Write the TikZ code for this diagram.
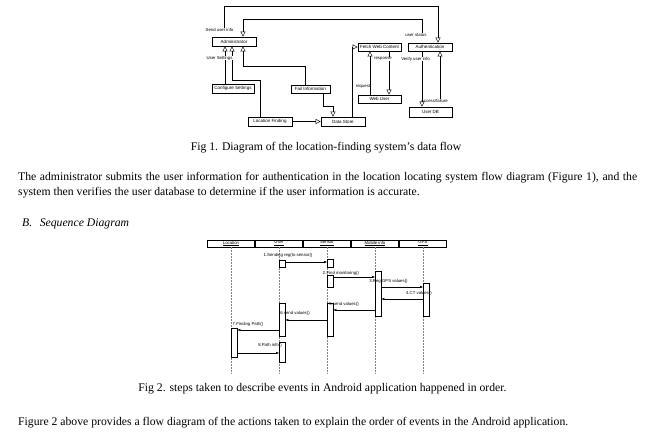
\documentclass[tikz,border=0pt]{standalone}
\usepackage{fontspec}
\setmainfont{Liberation Serif}
\newfontfamily\diagfont{Liberation Sans}
\usetikzlibrary{arrows.meta}

\tikzset{
  box/.style={draw,line width=0.7pt,inner sep=0pt,minimum height=9pt,font=\diagfont\fontsize{4.5}{5}\selectfont},
  lbl/.style={inner sep=0.4pt,font=\diagfont\fontsize{4.3}{5}\selectfont},
  flow/.style={line width=0.45pt,-{Triangle[open,length=5pt,width=5pt]}},
  head/.style={draw,line width=0.5pt,minimum width=47pt,minimum height=7pt,inner sep=0pt,font=\diagfont\fontsize{4.3}{5}\selectfont},
  act/.style={draw,line width=0.4pt,fill=white,minimum width=6pt,inner sep=0pt,anchor=north west},
  life/.style={gray,line width=0.35pt,dash pattern=on 2pt off 1pt},
  msg/.style={line width=0.4pt,-{Latex[length=3pt,width=2.5pt]}},
  txt/.style={inner sep=0pt,anchor=base west,font=\fontsize{11.7}{13}\selectfont},
}

\begin{document}
\begin{tikzpicture}[x=1pt,y=-1pt]
  \useasboundingbox (0,0) rectangle (649,434);

  % data flow
  \node[box,minimum width=44pt] (adm)   at (234,41.5)  {Administrator};
  \node[box,minimum width=42pt] (conf)  at (233,88.5)  {Configure Settings};
  \node[box,minimum width=39pt,minimum height=8pt] (fail) at (310.5,89) {Fail Information};
  \node[box,minimum width=44pt] (loc)   at (270,121.5) {Location Finding};
  \node[box,minimum width=44pt] (store) at (343,121.5) {Data Store};
  \node[box,minimum width=43pt,minimum height=8pt] (fetch) at (379.5,47) {Fetch Web Content};
  \node[box,minimum width=44pt,minimum height=8pt] (auth)  at (430,47)   {Authentication};
  \node[box,minimum width=43pt,minimum height=8pt] (web)   at (379.5,99) {Web User};
  \node[box,minimum width=43pt,minimum height=10pt] (db)   at (430.5,112) {User DB};

  \node[lbl] (sendinfo) at (219.5,30) {Send user info};
  \node[lbl] (status)   at (416,35)   {user status};
  \node[lbl] (request)  at (363,86.5) {request};
  \node[lbl] (access)   at (434.5,101) {Access/failure};

  \coordinate (sendtop)  at (438,6);
  \coordinate (stattop)  at (243,19);
  \coordinate (locbend)  at (232,80);
  \coordinate (failbend) at (243,66);
  \coordinate (fsbend)   at (333,106);

  \draw[flow] ([xshift=4.5pt]sendinfo.north) |- (sendtop) -- ([xshift=8pt]auth.north);
  \draw[flow] ([xshift=6pt]status.north) |- (stattop) -- ([xshift=9pt]adm.north);
  \draw[flow] ([xshift=-8pt]conf.north) -- ([xshift=-9pt]adm.south);
  \draw[flow] ([xshift=-10pt]loc.north) |- (locbend) -- ([xshift=-2pt]adm.south);
  \draw[flow] ([xshift=-5.5pt]fail.north) |- (failbend) -- ([xshift=9pt]adm.south);
  \draw[flow] ([xshift=12.5pt]fail.south) |- (fsbend) -- ([xshift=-10pt]store.north);
  \draw[flow] (loc) -- (store);
  \draw[flow] ([xshift=9pt]store.north) |- (fetch.west);
  \draw[flow] ([xshift=-9.5pt]web.north) -- ([xshift=-9.5pt]fetch.south);
  \draw[flow] ([xshift=9.5pt]fetch.south) -- ([xshift=9.5pt]web.north);
  \draw[flow] ([xshift=5.5pt]access.north) -- ([xshift=10pt]auth.south);
  \draw[flow] ([xshift=-8pt]auth.south) -- ([xshift=-8.5pt]db.north);

  \node[lbl,fill=white] (settings) at (219.5,58) {User Settings};
  \node[lbl,fill=white] (response) at (383,59)   {response};
  \node[lbl,fill=white] (verify)   at (415.5,59) {Verify user info};

  % sequence
  \node[head] (hloc) at (231,243.5) {\underline{Location}};
  \node[head] (husr) at (279,243.5) {\underline{User}};
  \node[head] (hsen) at (327,243.5) {\underline{Sensor}};
  \node[head] (hmob) at (375,243.5) {\underline{Mobile info}};
  \node[head] (hgps) at (423,243.5) {\underline{GPS}};

  \foreach \h in {hloc,husr,hsen,hmob,hgps}
    \draw[life] (\h.south) -- ++(0,127);

  \node[act,minimum height=7pt]  (a1) at (279,260) {};
  \node[act,minimum height=8pt]  (a2) at (327,259) {};
  \node[act,minimum height=12pt] (a3) at (327,275) {};
  \node[act,minimum height=45pt] (a4) at (375,271) {};
  \node[act,minimum height=33pt] (a5) at (423,283) {};
  \node[act,minimum height=33pt] (a6) at (327,303) {};
  \node[act,minimum height=33pt] (a7) at (279,303) {};
  \node[act,minimum height=29pt] (a8) at (231,328) {};
  \node[act,minimum height=20pt] (a9) at (279,342) {};

  \draw[msg] (a1.east |- 0,262) -- (a2.west |- 0,262);
  \draw[msg] (a3.east |- 0,277) -- (a4.west |- 0,277);
  \draw[msg] (a4.east |- 0,287) -- (a5.west |- 0,287);
  \draw[msg] (a5.west |- 0,299) -- (a4.east |- 0,299);
  \draw[msg] (a4.west |- 0,310) -- (a6.east |- 0,310);
  \draw[msg] (a6.west |- 0,320) -- (a7.east |- 0,320);
  \draw[msg] (a7.west |- 0,330) -- (a8.east |- 0,330);
  \draw[msg] (a8.east |- 0,353) -- (a9.west |- 0,353);

  \node[lbl] (m1) at (288,255)   {1.Sending reg(to sensor()};
  \node[lbl] (m2) at (341,273)   {2.Find monitoring()};
  \node[lbl] (m3) at (388.5,281) {3.Reg GPS values()};
  \node[lbl] (m4) at (419,293)   {4.CT values()};
  \node[lbl] (m5) at (344,304)   {5.send values()};
  \node[lbl] (m6) at (295,313)   {6.send values()};
  \node[lbl] (m7) at (248,324)   {7.Finding Path()};
  \node[lbl] (m8) at (270,345)   {8.Path info()};

  % text
  \node[txt,anchor=base] (cap1) at (326,150) {Fig 1. Diagram of the location-finding system's data flow};
  \node[txt] (para1) at (18,180) {\makebox[619pt][s]{The administrator submits the user information for authentication in the location locating system flow diagram (Figure 1), and the}};
  \node[txt] (para2) at (18,195) {system then verifies the user database to determine if the user information is accurate.};
  \node[txt] (secb)  at (22,226) {\itshape B.\hspace{7.5pt}Sequence Diagram};
  \node[txt,anchor=base] (cap2) at (322.5,391) {Fig 2. steps taken to describe events in Android application happened in order.};
  \node[txt] (last)  at (18,425) {Figure 2 above provides a flow diagram of the actions taken to explain the order of events in the Android application.};
\end{tikzpicture}
\end{document}
